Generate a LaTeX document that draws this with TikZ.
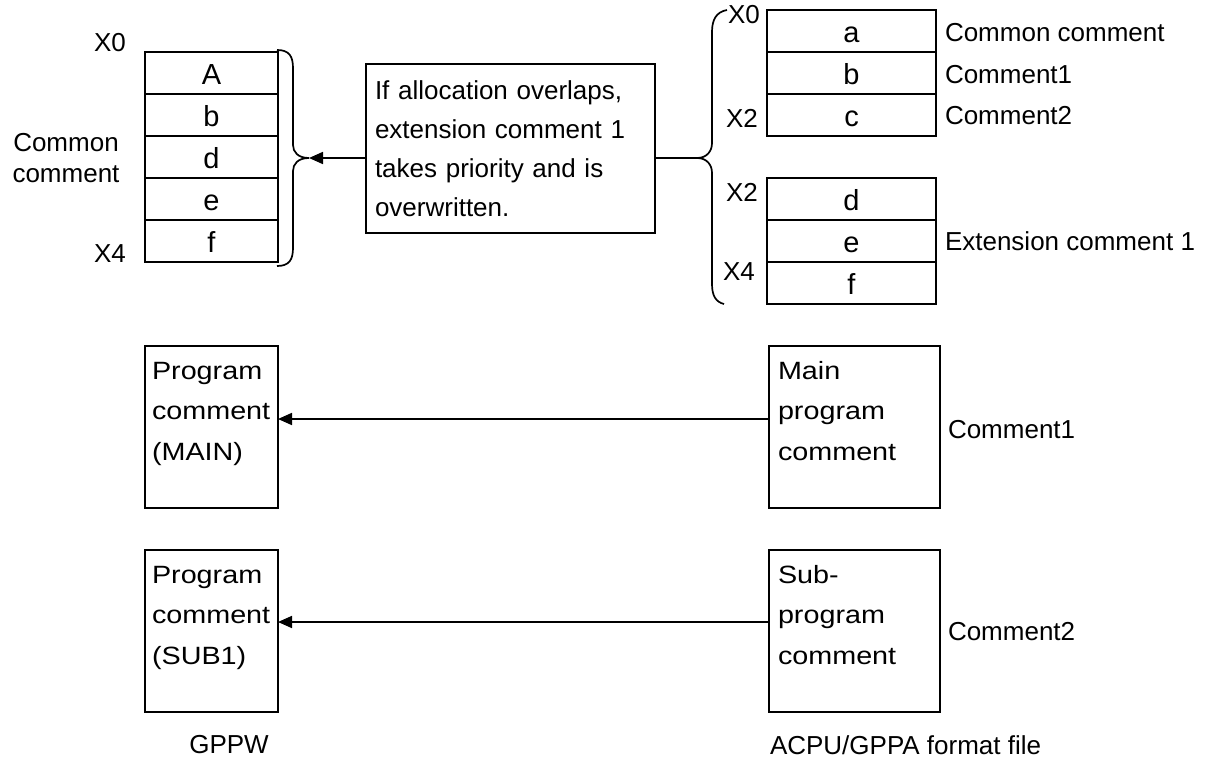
\documentclass[tikz,border=0pt]{standalone}
\usepackage{fontspec}
\setmainfont{Liberation Sans}
\newfontfamily\boxfont[FakeStretch=1.15]{Liberation Sans}
\usetikzlibrary{arrows.meta}

\begin{document}
\begin{tikzpicture}[x=1pt,y=-1pt,
  every node/.style={inner sep=0pt, outer sep=0pt},
  txt/.style={font=\fontsize{26}{31}\selectfont},
  cell/.style={draw, line width=1.7pt, minimum height=42pt, text height=23pt, text depth=0pt,
    font=\fontsize{29}{30}\selectfont},
  lcell/.style={cell, minimum width=133pt},
  rcell/.style={cell, minimum width=169pt},
  frame/.style={draw, line width=1.7pt},
  progbox/.style={frame, anchor=north west, minimum height=162pt},
  brace/.style={line width=1.7pt},
  link/.style={line width=1.7pt},
  arr/.style={link, -{Triangle[length=14pt,width=12pt]}},
]
\useasboundingbox (0,0) rectangle (1211,760);

% ---- GPPW device comment table ----
\node[lcell] (lA) at (211.5,73)  {A};
\node[lcell] (lb) at (211.5,115) {b};
\node[lcell] (ld) at (211.5,157) {d};
\node[lcell] (le) at (211.5,199) {e};
\node[lcell] (lf) at (211.5,241) {f};
\node[txt] (lx0) at (110,43) {X0};
\node[txt] (lx4) at (110,254) {X4};
\node[txt, align=center] (lcc) at (66,158) {Common\\comment};

% left brace
\coordinate (ltip) at (309,158);
\draw[brace] (277,50) .. controls (289,50) and (293,56) .. (293,68) -- (293,145)
  .. controls (293,152) and (298,158) .. (ltip)
  .. controls (298,158) and (293,164) .. (293,171) -- (293,248)
  .. controls (293,260) and (289,266) .. (277,266);

% ---- explanation ----
\node[frame, anchor=north west, minimum width=289pt, minimum height=169pt,
  text width=271pt, align=left, inner xsep=9pt,
  font=\fontsize{26}{39}\selectfont] (mid) at (366,64)
  {If allocation overlaps,\\extension comment 1\\takes priority and is\\overwritten.};

% ---- ACPU/GPPA comment tables ----
\node[rcell] (ra) at (851.5,31)  {a};
\node[rcell] (rb) at (851.5,73)  {b};
\node[rcell] (rc) at (851.5,115) {c};
\node[rcell] (rd) at (851.5,199) {d};
\node[rcell] (re) at (851.5,241) {e};
\node[rcell] (rf) at (851.5,283) {f};
\node[txt] (rx0) at (744,15)  {X0};
\node[txt] (rx2a) at (742,118) {X2};
\node[txt] (rx2b) at (742,192) {X2};
\node[txt] (rx4) at (739,272) {X4};
\node[txt, anchor=west] (rcc) at (945,33)  {Common comment};
\node[txt, anchor=west] (rc1) at (945,75)  {Comment1};
\node[txt, anchor=west] (rc2) at (945,116) {Comment2};
\node[txt, anchor=west] (rec) at (945,241) {Extension comment 1};

% right brace
\coordinate (rtip) at (697,158);
\draw[brace] (727,10) .. controls (716,12) and (712,20) .. (712,32) -- (712,143)
  .. controls (712,151) and (707,158) .. (rtip)
  .. controls (707,158) and (712,165) .. (712,173) -- (712,284)
  .. controls (712,296) and (716,302) .. (724,304);

\draw[link] (mid.east |- rtip) -- (rtip);
\draw[arr] (mid.west |- ltip) -- (ltip);

% ---- program comments ----
\node[progbox, minimum width=133pt, inner xsep=7pt] (gmain) at (145,346)
  {\parbox[c][162pt][t]{119pt}{\raggedright\hyphenpenalty=10000
   \boxfont\fontsize{25}{40.5}\selectfont\rule{0pt}{33pt}Program\\comment\\(MAIN)}};
\node[progbox, minimum width=133pt, inner xsep=7pt] (gsub) at (145,550)
  {\parbox[c][162pt][t]{119pt}{\raggedright\hyphenpenalty=10000
   \boxfont\fontsize{25}{40.5}\selectfont\rule{0pt}{33pt}Program\\comment\\(SUB1)}};
\node[progbox, minimum width=171pt, inner xsep=9pt] (amain) at (769,346)
  {\parbox[c][162pt][t]{153pt}{\raggedright\hyphenpenalty=10000
   \boxfont\fontsize{25}{40.5}\selectfont\rule{0pt}{33pt}Main\\program\\comment}};
\node[progbox, minimum width=171pt, inner xsep=9pt] (asub) at (769,550)
  {\parbox[c][162pt][t]{153pt}{\raggedright\hyphenpenalty=10000
   \boxfont\fontsize{25}{40.5}\selectfont\rule{0pt}{33pt}Sub-\\program\\comment}};

\node[txt, anchor=west] (ac1) at (948,430) {Comment1};
\node[txt, anchor=west] (ac2) at (948,632) {Comment2};

\draw[arr] ([yshift=8pt]amain.west) -- ([yshift=8pt]gmain.east);
\draw[arr] ([yshift=9pt]asub.west) -- ([yshift=9pt]gsub.east);

\node[txt] (gppw) at (229,745) {GPPW};
\node[txt, anchor=west] (acpu) at (770,745) {ACPU/GPPA format file};
\end{tikzpicture}
\end{document}
